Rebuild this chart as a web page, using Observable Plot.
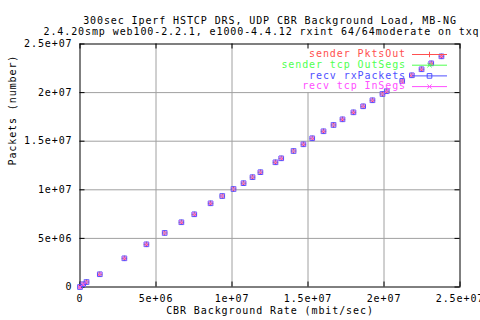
<!DOCTYPE html>
<html>
<head>
<meta charset="utf-8">
<script src="https://cdn.jsdelivr.net/npm/d3@7"></script>
<script src="https://cdn.jsdelivr.net/npm/@observablehq/plot@0.6"></script>
<style>
  html, body { margin: 0; padding: 0; background: #fff; }
  #chart { width: 480px; height: 320px; overflow: hidden; }
</style>
</head>
<body>
<div id="chart"></div>
<script>
// CBR background rate (x) and packet counts for each series
const cbrRate = [0, 0.21e6, 0.43e6, 1.30e6, 2.92e6, 4.37e6, 5.57e6, 6.67e6, 7.52e6, 8.59e6, 9.36e6, 10.1e6, 10.76e6, 11.35e6, 11.87e6, 12.86e6, 13.24e6, 14.05e6, 14.7e6, 15.28e6, 16.02e6, 16.68e6, 17.27e6, 17.99e6, 18.63e6, 19.24e6, 19.9e6, 20.18e6, 21.2e6, 21.83e6, 22.47e6, 23.11e6, 23.78e6];
const senderPktsOut = [0, 0.28e6, 0.51e6, 1.31e6, 2.95e6, 4.39e6, 5.56e6, 6.66e6, 7.48e6, 8.61e6, 9.36e6, 10.08e6, 10.68e6, 11.3e6, 11.81e6, 12.83e6, 13.24e6, 13.99e6, 14.68e6, 15.3e6, 16.02e6, 16.67e6, 17.25e6, 17.97e6, 18.59e6, 19.21e6, 19.86e6, 20.14e6, 21.19e6, 21.78e6, 22.4e6, 23.01e6, 23.73e6];
const senderTcpOutSegs = [0, 0.28e6, 0.51e6, 1.31e6, 2.95e6, 4.39e6, 5.56e6, 6.66e6, 7.48e6, 8.61e6, 9.36e6, 10.08e6, 10.68e6, 11.3e6, 11.81e6, 12.83e6, 13.24e6, 13.99e6, 14.68e6, 15.3e6, 16.02e6, 16.67e6, 17.25e6, 17.97e6, 18.59e6, 19.21e6, 19.86e6, 20.14e6, 21.19e6, 21.78e6, 22.4e6, 23.01e6, 23.73e6];
const recvRxPackets = [0, 0.28e6, 0.51e6, 1.31e6, 2.95e6, 4.39e6, 5.56e6, 6.66e6, 7.48e6, 8.61e6, 9.36e6, 10.08e6, 10.68e6, 11.3e6, 11.81e6, 12.83e6, 13.24e6, 13.99e6, 14.68e6, 15.3e6, 16.02e6, 16.67e6, 17.25e6, 17.97e6, 18.59e6, 19.21e6, 19.86e6, 20.14e6, 21.19e6, 21.78e6, 22.4e6, 23.01e6, 23.73e6];
const recvTcpInSegs = [0, 0.28e6, 0.51e6, 1.31e6, 2.95e6, 4.39e6, 5.56e6, 6.66e6, 7.48e6, 8.61e6, 9.36e6, 10.08e6, 10.68e6, 11.3e6, 11.81e6, 12.83e6, 13.24e6, 13.99e6, 14.68e6, 15.3e6, 16.02e6, 16.67e6, 17.25e6, 17.97e6, 18.59e6, 19.21e6, 19.86e6, 20.14e6, 21.19e6, 21.78e6, 22.4e6, 23.01e6, 23.73e6];

const seriesNames = ["sender PktsOut", "sender tcp OutSegs", "recv rxPackets", "recv tcp InSegs"];
const seriesColors = ["#ff5050", "#50ff50", "#5050ff", "#ff50ff"];
const seriesSymbols = ["plus", "times", "square", "times"];
const seriesValues = [senderPktsOut, senderTcpOutSegs, recvRxPackets, recvTcpInSegs];

const xTicks = [0, 5e6, 1e7, 1.5e7, 2e7, 2.5e7];
const xTickLabels = ["0", "5e+06", "1e+07", "1.5e+07", "2e+07", "2.5e+07"];
const yTicks = [0, 5e6, 1e7, 1.5e7, 2e7, 2.5e7];
const yTickLabels = ["0", "5e+06", "1e+07", "1.5e+07", "2e+07", "2.5e+07"];

const titleLine1 = "300sec Iperf HSTCP DRS, UDP CBR Background Load, MB-NG";
const titleLine2 = "2.4.20smp web100-2.2.1, e1000-4.4.12 rxint 64/64moderate on txqueuelen 2000";
const xLabel = "CBR Background Rate (mbit/sec)";
const yLabel = "Packets (number)";

const tables = seriesValues.map((vals, s) => cbrRate.map((x, i) => ({x, y: vals[i], s})));

// grid: vertical lines stop below the key area
const gridX = [
  {x: 5e6, top: 2.5e7}, {x: 1e7, top: 2.5e7}, {x: 1.5e7, top: 2e7}, {x: 2e7, top: 2e7}
];
const gridY = [5e6, 1e7, 1.5e7, 2e7];

const W = 480, H = 320;
const mL = 79.5, mR = 20.5, mT = 43.5, mB = 33.5;
const fw = W - mL - mR, fh = H - mT - mB;
const grey = "#a0a0a0";
const symbolR = [1.9, 2.1, 2.6, 2.1];

const marks = [
  Plot.ruleX(gridX, {x: "x", y1: 0, y2: "top", stroke: grey}),
  Plot.ruleY(gridY, {y: d => d, stroke: grey}),
  Plot.frame({stroke: "black"}),
  Plot.ruleX(xTicks, {x: d => d, insetTop: fh - 5, stroke: "black"}),
  Plot.ruleX(xTicks, {x: d => d, insetBottom: fh - 5, stroke: "black"}),
  Plot.ruleY(yTicks, {y: d => d, insetRight: fw - 5, stroke: "black"}),
  Plot.ruleY(yTicks, {y: d => d, insetLeft: fw - 5, stroke: "black"}),
  Plot.axisX(xTicks, {tickSize: 0, tickPadding: 8, tickFormat: (d, i) => xTickLabels[i], label: null}),
  Plot.axisY(yTicks, {tickSize: 0, tickPadding: 7.5, tickFormat: (d, i) => yTickLabels[i], label: null}),
  Plot.text([titleLine1], {frameAnchor: "top", dy: -27.5, text: d => d}),
  Plot.text([titleLine2], {frameAnchor: "top-left", textAnchor: "start", dx: -36.5, dy: -16.5, text: d => d}),
  Plot.text([xLabel], {frameAnchor: "bottom", dy: 27, text: d => d}),
  Plot.text([yLabel], {frameAnchor: "left", dx: -67.5, rotate: -90, text: d => d})
];
tables.forEach((t, s) => {
  marks.push(Plot.line(t, {x: "x", y: "y", stroke: seriesColors[s], strokeWidth: 1, ariaLabel: "series-line"}));
  marks.push(Plot.dot(t, {x: "x", y: "y", stroke: seriesColors[s], symbol: () => seriesSymbols[s], r: symbolR[s], strokeWidth: 1, ariaLabel: "series-dot"}));
});

const plot = Plot.plot({
  width: W, height: H,
  marginLeft: mL, marginRight: mR, marginTop: mT, marginBottom: mB,
  x: {domain: [0, 2.5e7]},
  y: {domain: [0, 2.5e7]},
  symbol: {type: "identity"},
  style: {fontFamily: "'DejaVu Sans Mono', monospace", fontSize: "10px", letterSpacing: "0.9px", background: "white", overflow: "hidden"},
  marks
});

// key (drawn before the data so the data passes over it)
const first = plot.querySelector('[aria-label="series-line"]');
const key = d3.select(plot.insertBefore(document.createElementNS("http://www.w3.org/2000/svg", "g"), first));
const symGen = {plus: d3.symbolPlus, times: d3.symbolTimes, square: d3.symbolSquare};
seriesNames.forEach((name, i) => {
  const cy = 54 + i * 10.7;
  key.append("text").attr("x", 406).attr("y", cy).attr("dy", "0.32em")
    .attr("text-anchor", "end").attr("fill", seriesColors[i]).text(name);
  key.append("line").attr("x1", 412).attr("x2", 447).attr("y1", cy + 0.5).attr("y2", cy + 0.5)
    .attr("stroke", seriesColors[i]);
  key.append("path").attr("transform", `translate(429.5,${cy + 0.5})`)
    .attr("d", d3.symbol(symGen[seriesSymbols[i]], Math.PI * symbolR[i] * symbolR[i])())
    .attr("fill", "none").attr("stroke", seriesColors[i]);
});

document.getElementById("chart").appendChild(plot);
</script>
</body>
</html>
